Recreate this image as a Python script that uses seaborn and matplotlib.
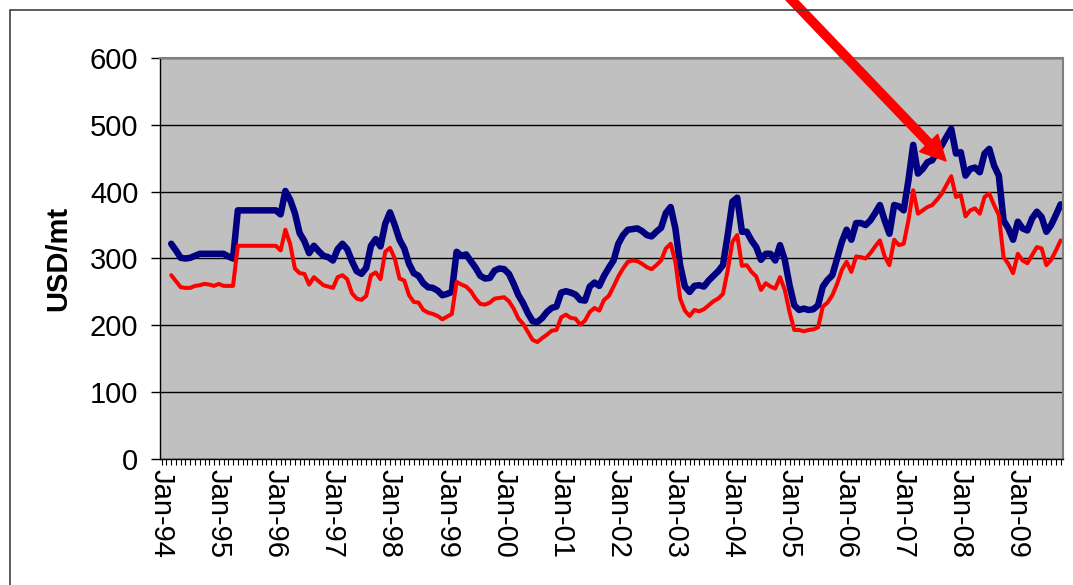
import numpy as np
import pandas as pd
import matplotlib
matplotlib.use('Agg')
import matplotlib.pyplot as plt
import seaborn as sns
from matplotlib.ticker import MultipleLocator
from matplotlib.patches import Rectangle

# monthly prices, USD/mt, first value is Mar-94
first_month = '1994-03-01'

upper_price = [
    322, 312, 301, 300, 301, 304, 307, 307, 307, 307,                 # 1994
    307, 307, 303, 300, 372, 372, 372, 372, 372, 372, 372, 372,       # 1995
    372, 366, 401, 388, 368, 338, 326, 308, 319, 311, 304, 302,       # 1996
    297, 314, 322, 314, 296, 281, 277, 286, 319, 329, 318, 352,       # 1997
    369, 350, 328, 315, 292, 278, 274, 263, 257, 256, 252, 245,       # 1998
    247, 250, 310, 304, 306, 296, 286, 274, 270, 271, 282, 285,       # 1999
    284, 277, 262, 245, 233, 218, 206, 205, 211, 220, 226, 228,       # 2000
    249, 251, 249, 246, 238, 237, 258, 264, 259, 274, 286, 297,       # 2001
    322, 335, 343, 344, 345, 341, 335, 333, 340, 346, 368, 377,       # 2002
    345, 290, 258, 250, 259, 260, 258, 267, 274, 281, 290, 335,       # 2003
    385, 391, 340, 340, 327, 317, 298, 307, 307, 297, 320, 298,       # 2004
    260, 230, 223, 225, 223, 224, 230, 258, 268, 275, 300, 325,       # 2005
    343, 328, 353, 353, 350, 357, 368, 380, 357, 337, 380, 378,       # 2006
    372, 417, 470, 427, 434, 444, 447, 459, 469, 482, 494, 457,       # 2007
    459, 424, 434, 436, 429, 457, 464, 439, 424, 357, 345, 328,       # 2008
    355, 345, 342, 360, 370, 362, 340, 350, 365, 381,                 # 2009
]

lower_price = [
    275, 266, 257, 256, 256, 259, 260, 262, 261, 259,                 # 1994
    262, 259, 259, 259, 319, 319, 319, 319, 319, 319, 319, 319,       # 1995
    319, 312, 343, 322, 285, 278, 277, 261, 272, 266, 260, 258,       # 1996
    256, 272, 275, 269, 248, 240, 238, 244, 275, 279, 269, 310,       # 1997
    316, 300, 270, 267, 245, 235, 234, 223, 219, 217, 214, 209,       # 1998
    213, 217, 265, 261, 258, 251, 240, 232, 231, 234, 240, 241,       # 1999
    242, 236, 225, 210, 202, 190, 178, 175, 181, 186, 192, 193,       # 2000
    212, 216, 211, 210, 201, 207, 220, 226, 222, 238, 244, 258,       # 2001
    273, 285, 295, 297, 296, 292, 287, 284, 290, 297, 315, 322,       # 2002
    295, 240, 222, 214, 223, 221, 224, 230, 236, 240, 247, 282,       # 2003
    325, 335, 289, 290, 280, 273, 253, 263, 258, 255, 272, 253,       # 2004
    220, 193, 193, 191, 193, 194, 197, 228, 234, 245, 262, 283,       # 2005
    295, 280, 303, 302, 300, 308, 318, 327, 303, 290, 328, 320,       # 2006
    322, 357, 402, 367, 372, 377, 380, 388, 397, 410, 423, 392,       # 2007
    395, 363, 372, 375, 367, 392, 397, 380, 365, 302, 292, 278,       # 2008
    307, 297, 293, 305, 317, 315, 290, 298, 312, 327,                 # 2009
]

y_ticks = [0, 100, 200, 300, 400, 500, 600]
label_years = pd.date_range('1994-01-01', '2009-01-01', freq='YS')

months = pd.date_range(first_month, periods=len(upper_price), freq='MS')
df = pd.DataFrame({'month': months, 'upper': upper_price, 'lower': lower_price})
# month number counted from Jan-94, used as the category position
df['pos'] = (df['month'].dt.year - 1994) * 12 + df['month'].dt.month - 1
jan_pos = (label_years.year - 1994) * 12

sns.set_theme(style='white')
plt.rcParams['font.family'] = ['Liberation Sans', 'DejaVu Sans']
plt.rcParams['text.color'] = 'black'
plt.rcParams['axes.labelcolor'] = 'black'
plt.rcParams['xtick.color'] = 'black'
plt.rcParams['ytick.color'] = 'black'

fig = plt.figure(figsize=(10.73, 5.85), dpi=100)
ax = fig.add_axes([0.1491, 0.2154, 0.8416, 0.6855])
ax.set_facecolor('#C0C0C0')

sns.lineplot(data=df, x='pos', y='upper', color='#000080', lw=4.7, ax=ax)
sns.lineplot(data=df, x='pos', y='lower', color='#FF0000', lw=2.9, ax=ax)

ax.set_xlim(-0.36, 189.5)
ax.set_ylim(0, 600)
ax.set_yticks(y_ticks)
ax.yaxis.grid(True, color='black', lw=1)
ax.xaxis.grid(False)
ax.set_axisbelow(True)

ax.set_xticks(jan_pos)
ax.set_xticklabels(label_years.strftime('%b-%y'), rotation=-90)
ax.xaxis.set_minor_locator(MultipleLocator(1))

ax.tick_params(axis='y', direction='out', length=6.5, width=1, colors='black',
               pad=9, labelsize=21, left=True)
ax.tick_params(axis='x', which='both', direction='out', length=4.3, width=0.8,
               colors='black', pad=3, labelsize=21, bottom=True)

for side in ['left', 'bottom']:
    ax.spines[side].set_color('black')
    ax.spines[side].set_linewidth(1)
for side in ['top', 'right']:
    ax.spines[side].set_color('#808080')
    ax.spines[side].set_linewidth(1.5)

ax.set_xlabel('')
ax.set_ylabel('USD/mt', fontsize=21, fontweight='bold', color='black')
ax.yaxis.set_label_coords(-0.097, 0.5)

# outer chart frame (cut by the picture edges on the right and bottom)
fig.add_artist(Rectangle((0.0089, -0.1), 1.2, 1.0829, transform=fig.transFigure,
                         fill=False, edgecolor='#404040', lw=1.2, clip_on=False))

ax.annotate('', xy=(946, 424), xycoords='figure pixels',
            xytext=(785, 592), textcoords='figure pixels',
            arrowprops=dict(facecolor='#FF0000', edgecolor='#FF0000',
                            width=6, headwidth=18, headlength=18, shrink=0),
            annotation_clip=False)

fig.savefig('out.png', dpi=100)
